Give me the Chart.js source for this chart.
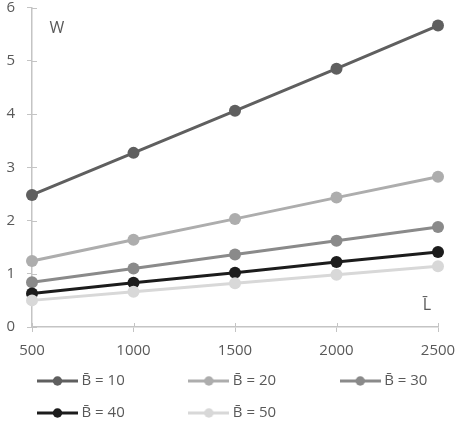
<!DOCTYPE html>
<html>
<head>
<meta charset="utf-8">
<script src="https://cdn.jsdelivr.net/npm/chart.js@4/dist/chart.umd.min.js"></script>
<style>
html,body{margin:0;padding:0;background:#ffffff;}
#wrap{width:456px;height:424px;}
</style>
</head>
<body>
<div id="wrap"><canvas id="c" width="456" height="424"></canvas></div>
<script>
// ---- data ----
const categories = ['500', '1000', '1500', '2000', '2500'];
const seriesNames = ['B\u0304 = 10', 'B\u0304 = 20', 'B\u0304 = 30', 'B\u0304 = 40', 'B\u0304 = 50'];
const b10 = [2.48, 3.27, 4.06, 4.85, 5.66];
const b20 = [1.24, 1.64, 2.03, 2.43, 2.82];
const b30 = [0.84, 1.10, 1.36, 1.62, 1.88];
const b40 = [0.63, 0.83, 1.02, 1.22, 1.41];
const b50 = [0.50, 0.66, 0.82, 0.98, 1.14];
const yMin = 0, yMax = 6, yStep = 1;
const yAxisLabel = 'W';
const xAxisLabel = 'L\u0304';

// ---- styles ----
const seriesValues = [b10, b20, b30, b40, b50];
const colors = ['#5f5f5f', '#adadad', '#8a8a8a', '#1c1c1c', '#d8d8d8'];
const textColor = '#595959';
const axisColor = '#c4c4c4';
const fontFamily = "'Open Sans', 'Liberation Sans', sans-serif";

function marker(color) {
  const c = document.createElement('canvas');
  c.width = 41; c.height = 12;
  const g = c.getContext('2d');
  g.strokeStyle = color; g.lineWidth = 3;
  g.beginPath(); g.moveTo(0, 6); g.lineTo(41, 6); g.stroke();
  g.fillStyle = color;
  g.beginPath(); g.arc(20.5, 6, 4.7, 0, Math.PI * 2); g.fill();
  return c;
}

const datasets = seriesValues.map((vals, i) => ({
  label: seriesNames[i],
  data: vals,
  borderColor: colors[i],
  backgroundColor: colors[i],
  pointBackgroundColor: colors[i],
  pointBorderColor: colors[i],
  borderWidth: 3,
  pointRadius: 6,
  pointHoverRadius: 6,
  pointBorderWidth: 0,
  tension: 0,
  order: seriesValues.length - 1 - i
}));

const helpers = {
  id: 'helpers',
  afterLayout(chart) {
    // shift the legend block so that its first column sits under the plot
    if (chart.legend) { chart.legend.left = 24; }
  },
  beforeDatasetsDraw(chart) {
    const {ctx, chartArea: ca, scales: {x, y}} = chart;
    ctx.save();
    ctx.strokeStyle = axisColor;
    ctx.lineWidth = 1;
    ctx.beginPath();
    y.ticks.forEach((t, i) => {
      const py = Math.round(y.getPixelForTick(i)) + 0.5;
      ctx.moveTo(ca.left, py); ctx.lineTo(ca.left + 5, py);
    });
    x.ticks.forEach((t, i) => {
      const px = Math.round(x.getPixelForTick(i)) + 0.5;
      ctx.moveTo(px, ca.bottom); ctx.lineTo(px, ca.bottom - 4);
    });
    ctx.stroke();
    ctx.restore();
  },
  afterDraw(chart) {
    const {ctx, chartArea: ca} = chart;
    ctx.save();
    ctx.fillStyle = textColor;
    ctx.font = '16px ' + fontFamily;
    ctx.textAlign = 'center';
    ctx.textBaseline = 'alphabetic';
    ctx.fillText(yAxisLabel, ca.left + 25, ca.top + 25.5);
    ctx.fillText(xAxisLabel, ca.right - 11, ca.bottom - 17);
    ctx.restore();
  }
};

Chart.defaults.font.family = fontFamily;
Chart.defaults.font.size = 15;
Chart.defaults.color = textColor;

new Chart(document.getElementById('c'), {
  type: 'line',
  data: { labels: categories, datasets },
  plugins: [helpers],
  options: {
    responsive: false,
    animation: false,
    devicePixelRatio: 1,
    layout: { padding: { left: 0, right: 1, top: 0, bottom: -6.5 } },
    plugins: {
      tooltip: { enabled: false },
      legend: {
        position: 'bottom',
        align: 'start',
        labels: {
          usePointStyle: true,
          pointStyleWidth: 33,
          padding: 17,
          color: textColor,
          font: { size: 15, family: fontFamily },
          generateLabels(chart) {
            const items = Chart.defaults.plugins.legend.labels.generateLabels(chart);
            items.sort((a, b) => a.datasetIndex - b.datasetIndex);
            const ctx = chart.ctx;
            ctx.save();
            ctx.font = '15px ' + fontFamily;
            items.forEach((it, i) => {
              it.pointStyle = marker(colors[it.datasetIndex]);
              it.fontColor = textColor;
              const target = (i % 3 === 2) ? 0 : 97;
              let t = it.text;
              while (ctx.measureText(t + ' ').width <= target) t += ' ';
              it.text = t;
            });
            ctx.restore();
            return items;
          }
        }
      }
    },
    scales: {
      x: {
        type: 'category',
        offset: false,
        grid: { display: true, drawOnChartArea: false, drawTicks: true, tickLength: 5, color: axisColor, lineWidth: 1 },
        border: { display: true, color: axisColor, width: 1.5 },
        ticks: { color: textColor, padding: 10, font: { size: 15, lineHeight: 1.2 }, maxRotation: 0, autoSkip: false },
        afterFit(s) { s.height = 29.5; s.paddingRight = 18; s.paddingLeft = 14; }
      },
      y: {
        min: yMin, max: yMax,
        grid: { display: true, drawOnChartArea: false, drawTicks: true, tickLength: 5, color: axisColor, lineWidth: 1 },
        border: { display: true, color: axisColor, width: 1.5 },
        ticks: { stepSize: yStep, color: textColor, padding: 12, font: { size: 15, lineHeight: 1 } },
        afterFit(s) { s.width = 32; s.paddingTop = 7.5; s.paddingBottom = 7.5; }
      }
    }
  }
});
</script>
</body>
</html>
